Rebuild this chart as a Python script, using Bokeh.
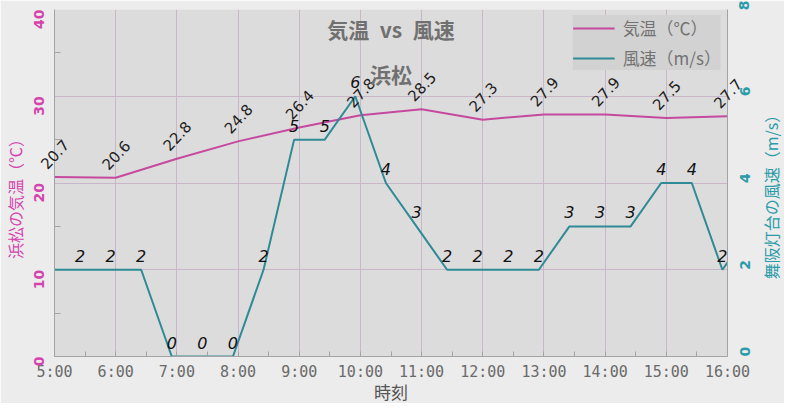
import math
from bokeh.plotting import figure
from bokeh.models import (Range1d, LinearAxis, FixedTicker, ColumnDataSource,
                          Legend, LegendItem)
from bokeh.embed import file_html
from bokeh.resources import INLINE
from bokeh.core.properties import value

# ---------------- data ----------------
time_labels = ["5:00", "6:00", "7:00", "8:00", "9:00", "10:00", "11:00",
               "12:00", "13:00", "14:00", "15:00", "16:00"]
temp_values = [20.7, 20.6, 22.8, 24.8, 26.4, 27.8, 28.5, 27.3, 27.9, 27.9, 27.5, 27.7]

wind_times = ["4:55", "5:25", "5:55", "6:25", "6:55", "7:25", "7:55", "8:25",
              "8:55", "9:25", "9:55", "10:25", "10:55", "11:25", "11:55", "12:25",
              "12:55", "13:25", "13:55", "14:25", "14:55", "15:25", "15:55", "16:25"]
wind_values = [2, 2, 2, 2, 0, 0, 0, 2, 5, 5, 6, 4, 3, 2, 2, 2, 2, 3, 3, 3, 4, 4, 2, 3]

temp_ticks = [0, 10, 20, 30, 40]
wind_ticks = [0, 2, 4, 6, 8]

title_text = "気温\u2002vs\u2002風速"
subtitle_text = "浜松"
x_title = "時刻"
left_title = "浜松の気温（℃）"
right_title = "舞阪灯台の風速（m/s）"
legend_temp = "気温（℃）"
legend_wind = "風速（m/s）"


def to_hours(s):
    h, m = s.split(":")
    return int(h) + int(m) / 60.0


temp_x = [to_hours(t) for t in time_labels]
wind_x = [to_hours(t) for t in wind_times]
x_start, x_end = temp_x[0], temp_x[-1]

# ---------------- colours ----------------
TEMP_C = "#C54A9E"
WIND_C = "#2E8A94"
PINK_TXT = "#D444AE"
TEAL_TXT = "#2A9BA8"
GRID_C = "#C9B7C9"
AXIS_C = "#A3A3A3"
CJK = "Noto Sans CJK JP"

W, H = 784, 403
BL, BR, BT, BB = 54, 57, 9, 47
p = figure(width=W, height=H,
           x_range=Range1d(x_start, x_end), y_range=Range1d(temp_ticks[0], temp_ticks[-1]),
           output_backend="svg", toolbar_location=None,
           min_border_left=BL, min_border_right=BR, min_border_top=BT, min_border_bottom=BB)
p.extra_y_ranges = {"wind": Range1d(wind_ticks[0], wind_ticks[-1])}

p.background_fill_color = "#DDDCDD"
p.border_fill_color = "#ECECEC"
p.outline_line_color = None

# grid
p.xgrid.ticker = FixedTicker(ticks=temp_x)
p.ygrid.ticker = FixedTicker(ticks=temp_ticks)
for g in (p.xgrid[0], p.ygrid[0]):
    g.grid_line_color = GRID_C
    g.grid_line_width = 1

# x axis
xa = p.xaxis[0]
xa.ticker = FixedTicker(ticks=temp_x, minor_ticks=[t + 0.5 for t in temp_x[:-1]])
xa.major_label_overrides = {int(t): lbl for t, lbl in zip(temp_x, time_labels)}
xa.major_label_text_font = "DejaVu Sans Mono"
xa.major_label_text_font_size = "15px"
xa.major_label_text_color = "#6A6A6A"
xa.major_label_standoff = 6
xa.axis_line_color = AXIS_C
xa.major_tick_in = 5
xa.major_tick_out = 0
xa.minor_tick_in = 5
xa.minor_tick_out = 0
xa.major_tick_line_color = AXIS_C
xa.minor_tick_line_color = AXIS_C

# left axis
ya = p.yaxis[0]
ya.ticker = FixedTicker(ticks=temp_ticks,
                        minor_ticks=[t + 5 for t in temp_ticks[:-1]])
ya.major_label_orientation = math.pi / 2
ya.major_label_text_font = "DejaVu Sans"
ya.major_label_text_font_style = "bold"
ya.major_label_text_font_size = "14px"
ya.major_label_text_color = PINK_TXT
ya.major_label_standoff = 16
ya.axis_line_color = AXIS_C
ya.major_tick_in = 0
ya.major_tick_out = 0
ya.minor_tick_in = 6
ya.minor_tick_out = 0
ya.minor_tick_line_color = AXIS_C

# right axis
ra = LinearAxis(y_range_name="wind")
ra.ticker = FixedTicker(ticks=wind_ticks)
ra.major_label_orientation = math.pi / 2
ra.major_label_text_font = "DejaVu Sans"
ra.major_label_text_font_style = "bold"
ra.major_label_text_font_size = "14px"
ra.major_label_text_color = TEAL_TXT
ra.major_label_standoff = 17
ra.axis_line_color = AXIS_C
ra.major_tick_in = 0
ra.major_tick_out = 0
ra.minor_tick_in = 0
ra.minor_tick_out = 0
p.add_layout(ra, "right")

# lines
r_temp = p.line(temp_x, temp_values, line_color=TEMP_C, line_width=2)
r_wind = p.line(wind_x, wind_values, line_color=WIND_C, line_width=2, y_range_name="wind")

# temperature labels
tsrc = ColumnDataSource(dict(x=temp_x, y=temp_values, t=["%.1f" % v for v in temp_values]))
rt = p.text(x="x", y="y", text="t", source=tsrc, angle=0.82,
            text_align="center", text_baseline="middle", y_offset=-23,
            text_font=value("DejaVu Sans"), text_font_size="15px", text_color="#1E1E1E")
rt.level = "overlay"

# wind labels (only points inside the time range)
wl = [(x, v) for x, v in zip(wind_x, wind_values) if x_start <= x <= x_end]
wsrc = ColumnDataSource(dict(x=[a for a, _ in wl], y=[b for _, b in wl], t=[str(b) for _, b in wl]))
rw = p.text(x="x", y="y", text="t", source=wsrc, y_range_name="wind",
            text_align="center", text_baseline="middle", y_offset=-14,
            text_font=value("DejaVu Sans"), text_font_style="italic",
            text_font_size="16px", text_color="#111111")
rw.level = "overlay"

# titles
x_mid = (x_start + x_end) / 2
y_top = temp_ticks[-1]
for txt, dy in ((title_text, 19), (subtitle_text, 64)):
    r = p.text(x=[x_mid], y=[y_top], text=[txt], y_offset=dy,
               text_align="center", text_baseline="middle",
               text_font=value(CJK), text_font_style="bold",
               text_font_size="21px", text_color="#707070")
    r.level = "overlay"

# axis titles, drawn in the margins (not clipped at overlay level)
y_mid = (temp_ticks[0] + temp_ticks[-1]) / 2
r = p.text(x=[x_mid], y=[temp_ticks[0]], text=[x_title], y_offset=35,
           text_align="center", text_baseline="middle", text_font=value(CJK),
           text_font_size="17px", text_color="#555555")
r.level = "overlay"
r = p.text(x=[x_start], y=[y_mid], text=[left_title], x_offset=-40, y_offset=12,
           angle=math.pi / 2, text_align="center", text_baseline="middle",
           text_font=value(CJK), text_font_size="16px", text_color=PINK_TXT)
r.level = "overlay"
r = p.text(x=[x_end], y=[y_mid], text=[right_title], x_offset=43, y_offset=10,
           angle=math.pi / 2, text_align="center", text_baseline="middle",
           text_font=value(CJK), text_font_size="16px", text_color=TEAL_TXT)
r.level = "overlay"

# legend
legend = Legend(items=[LegendItem(label=legend_temp, renderers=[r_temp]),
                       LegendItem(label=legend_wind, renderers=[r_wind])],
                location="top_right", margin=6, padding=5, spacing=5,
                glyph_width=42, glyph_height=20, label_height=20, label_standoff=8,
                label_text_font=CJK, label_text_font_size="17px",
                label_text_color="#727272",
                background_fill_color="#D2D2D2", background_fill_alpha=1.0,
                border_line_color=None)
p.add_layout(legend)

open("out.html", "w").write(file_html(p, INLINE))
